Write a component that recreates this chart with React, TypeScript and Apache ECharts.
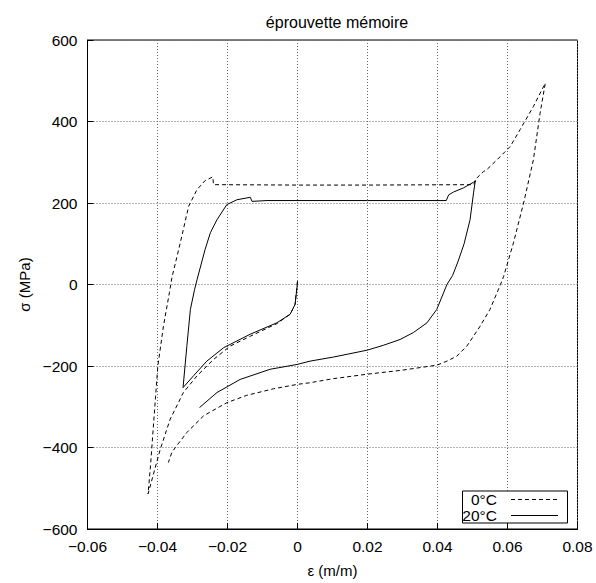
import React, { useEffect, useRef } from "react";
import * as echarts from "echarts";

// 0°C specimen (dashed): strain (m/m) and stress (MPa), in path order
const eps0C = [
  0, -0.0007, -0.0021, -0.0059, -0.0135, -0.0192, -0.024, -0.0287, -0.0326, -0.0364, -0.0392, -0.0427,
  -0.042, -0.0411, -0.0399, -0.0383, -0.0366, -0.0359, -0.0335, -0.0311, -0.0287, -0.0264, -0.0242,
  -0.024, 0.0, 0.02, 0.0503, 0.0508, 0.0512, 0.0531, 0.0541, 0.057, 0.0608, 0.0636, 0.0674, 0.0708,
  0.0693, 0.0674, 0.0646, 0.0617, 0.0589, 0.058, 0.055, 0.0522, 0.0484, 0.0455, 0.0427, 0.0398, 0.0293,
  0.02, 0.0103, 0.0036, 0, -0.0069, -0.0145, -0.0202, -0.0268, -0.0316, -0.0349, -0.0359, -0.0369,
];
const sig0C = [
  8, -49, -73, -96, -127, -151, -184, -224, -265, -331, -404, -514,
  -445, -339, -200, -102, -20, 16, 102, 192, 233, 255, 264,
  245, 244, 244, 245, 253, 261, 277, 282, 306, 339, 380, 437, 494,
  420, 306, 200, 102, 20, 0, -61, -102, -151, -176, -188, -198, -211,
  -220, -231, -241, -245, -256, -272, -290, -322, -363, -400, -412, -437,
];

// 20°C specimen (solid)
const eps20C = [
  0, -0.0002, -0.0007, -0.0021, -0.0059, -0.0135, -0.0211, -0.0259, -0.0297, -0.0327,
  -0.0316, -0.0306, -0.0294, -0.0287, -0.0264, -0.0249, -0.023, -0.0202, -0.0173, -0.0135,
  -0.013, -0.0087, 0.02, 0.0425, 0.0432, 0.0446, 0.0474, 0.0503, 0.0508,
  0.0503, 0.0493, 0.0476, 0.0458, 0.0443, 0.0427, 0.0398, 0.037, 0.0331, 0.0293, 0.0246,
  0.02, 0.0103, 0.0036, 0, -0.0078, -0.0164, -0.023, -0.028,
];
const sig20C = [
  8, -12, -49, -73, -94, -122, -155, -188, -224, -253,
  -150, -61, -12, 12, 86, 127, 159, 196, 208, 214,
  204, 206, 206, 206, 220, 227, 237, 251, 255,
  225, 159, 100, 55, 22, 0, -61, -94, -118, -135, -149,
  -161, -178, -188, -196, -208, -233, -265, -302,
];

const seriesNames = ["0°C", "20°C"];
const FONT = "'Liberation Sans', Arial, Helvetica, sans-serif";

const fmt = (v: number) => {
  if (Math.abs(v) < 1e-12) return "0";
  const s = String(parseFloat(v.toFixed(4)));
  return s.replace("-", "\u2212");
};

export default function App() {
  const ref = useRef<HTMLDivElement>(null);
  useEffect(() => {
    if (!ref.current) return;
    const chart = echarts.init(ref.current, undefined, { renderer: "svg" });
    const d0 = eps0C.map((e, i) => [e, sig0C[i]]);
    const d20 = eps20C.map((e, i) => [e, sig20C[i]]);
    const gridLine = { show: true, lineStyle: { color: "#666", type: [1, 2], width: 1 } };
    chart.setOption({
      animation: false,
      backgroundColor: "#fff",
      title: {
        text: "éprouvette mémoire",
        left: 332,
        top: 9,
        textAlign: "center",
        textStyle: { fontSize: 16, fontWeight: "normal", color: "#000", fontFamily: FONT },
      },
      grid: {
        left: 87.5, right: 18.5, top: 40, bottom: 53,
        show: true, borderColor: "#000", borderWidth: 1, containLabel: false,
      },
      xAxis: {
        type: "value", min: -0.06, max: 0.08, interval: 0.02,
        name: "ε (m/m)", nameLocation: "middle", nameGap: 34,
        nameTextStyle: { fontSize: 15, color: "#000", fontFamily: FONT },
        axisLine: { show: true, onZero: false, lineStyle: { color: "#000", width: 1 } },
        axisTick: { show: true, inside: true, length: 6, lineStyle: { color: "#000" } },
        axisLabel: { color: "#000", fontSize: 15.5, fontFamily: FONT, margin: 9, formatter: fmt },
        splitLine: gridLine,
      },
      yAxis: {
        type: "value", min: -600, max: 600, interval: 200,
        name: "σ (MPa)", nameLocation: "middle", nameGap: 49,
        nameTextStyle: { fontSize: 15, color: "#000", fontFamily: FONT },
        axisLine: { show: true, onZero: false, lineStyle: { color: "#000", width: 1 } },
        axisTick: { show: true, inside: true, length: 6, lineStyle: { color: "#000" } },
        axisLabel: { color: "#000", fontSize: 15.5, fontFamily: FONT, margin: 10, formatter: fmt },
        splitLine: gridLine,
      },
      series: [
        {
          name: seriesNames[0], type: "line", data: d0, showSymbol: false,
          lineStyle: { color: "#000", width: 1, type: [4, 3] },
        },
        {
          name: seriesNames[1], type: "line", data: d20, showSymbol: false,
          lineStyle: { color: "#000", width: 1, type: "solid" },
        },
      ],
      graphic: [
        {
          type: "rect", shape: { x: 462.5, y: 491, width: 105, height: 32 },
          style: { fill: "#fff", stroke: "#000", lineWidth: 1 }, z: 100,
        },
        {
          type: "text", x: 497, y: 499, z: 101,
          style: { text: seriesNames[0], fill: "#000", fontSize: 15.5, fontFamily: FONT, align: "right", verticalAlign: "middle" },
        },
        {
          type: "text", x: 497, y: 515, z: 101,
          style: { text: seriesNames[1], fill: "#000", fontSize: 15.5, fontFamily: FONT, align: "right", verticalAlign: "middle" },
        },
        {
          type: "line", z: 101, shape: { x1: 511, y1: 499.5, x2: 558, y2: 499.5 },
          style: { stroke: "#000", lineWidth: 1, lineDash: [4, 3] },
        },
        {
          type: "line", z: 101, shape: { x1: 511, y1: 515.5, x2: 558, y2: 515.5 },
          style: { stroke: "#000", lineWidth: 1 },
        },
      ],
    });
    return () => chart.dispose();
  }, []);
  return <div ref={ref} style={{ width: 596, height: 583, position: "absolute", left: 0, top: 0 }} />;
}
